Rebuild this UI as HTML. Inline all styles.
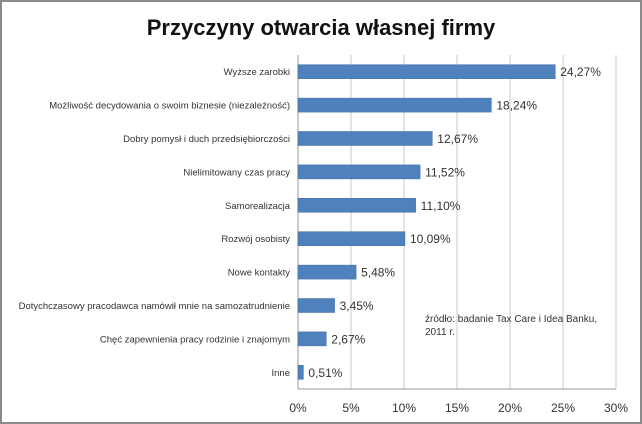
<!DOCTYPE html>
<html><head><meta charset="utf-8"><style>
body{margin:0;background:#fff;}
svg{display:block;font-family:"Liberation Sans",sans-serif;}
</style></head><body>
<svg id="c" width="642" height="424" viewBox="0 0 642 424">
<rect x="1" y="1" width="640" height="422" fill="#fff" stroke="#8a8a8a" stroke-width="2"/>
<text x="321" y="35" text-anchor="middle" font-size="22" font-weight="bold" fill="#111">Przyczyny otwarcia własnej firmy</text>
<g id="grid"></g><g id="bars"></g><g id="ticks"></g>
<text x="425" y="322" font-size="10" fill="#333">źródło: badanie Tax Care i Idea Banku,</text>
<text x="425" y="335" font-size="10" fill="#333">2011 r.</text>
</svg>
<script>
const categories=["Wyższe zarobki","Możliwość decydowania o swoim biznesie (niezależność)","Dobry pomysł i duch przedsiębiorczości","Nielimitowany czas pracy","Samorealizacja","Rozwój osobisty","Nowe kontakty","Dotychczasowy pracodawca namówił mnie na samozatrudnienie","Chęć zapewnienia pracy rodzinie i znajomym","Inne"];
const values=[24.27,18.24,12.67,11.52,11.10,10.09,5.48,3.45,2.67,0.51];
const ticks=[0,5,10,15,20,25,30];
const NS="http://www.w3.org/2000/svg";
const x0=298,x1=616,y0=55,y1=389,max=30;
const xs=v=>x0+(v/max)*(x1-x0);
const band=(y1-y0)/categories.length;
const ys=i=>y0+band*i+band/2;
function mk(t,a,p){const e=document.createElementNS(NS,t);for(const k in a)e.setAttribute(k,a[k]);p.appendChild(e);return e;}
const g=document.getElementById('grid'),b=document.getElementById('bars'),tk=document.getElementById('ticks');
ticks.forEach(t=>{
 const l=mk('line',{x1:xs(t),x2:xs(t),y1:y0,y2:y1,stroke:t===0?'#999':'#c8c8c8','stroke-width':1},g);
 
 
 const tx=mk('text',{x:xs(t),y:412,'text-anchor':'middle','font-size':12,fill:'#333'},tk);
 tx.textContent=t+'%';
 
 
});
const ax=mk('line',{x1:x0,x2:x1,y1:y1,y2:y1,stroke:'#999'},g);


categories.forEach((c,i)=>{
 const y=ys(i);
 const r=mk('rect',{x:x0,y:y-7,width:xs(values[i])-x0,height:14,fill:'#4f81bd',stroke:'#3e6a9e','stroke-width':0.5},b);
 
 
 const lb=mk('text',{x:x0-8,y:y+3.5,'text-anchor':'end','font-size':9.5,fill:'#333'},b);
 lb.textContent=c;
 
 
 const vl=mk('text',{x:xs(values[i])+5,y:y+4.5,'font-size':12,fill:'#333'},b);
 vl.textContent=values[i].toFixed(2).replace('.',',')+'%';
 
 
});
</script>
</body></html>
